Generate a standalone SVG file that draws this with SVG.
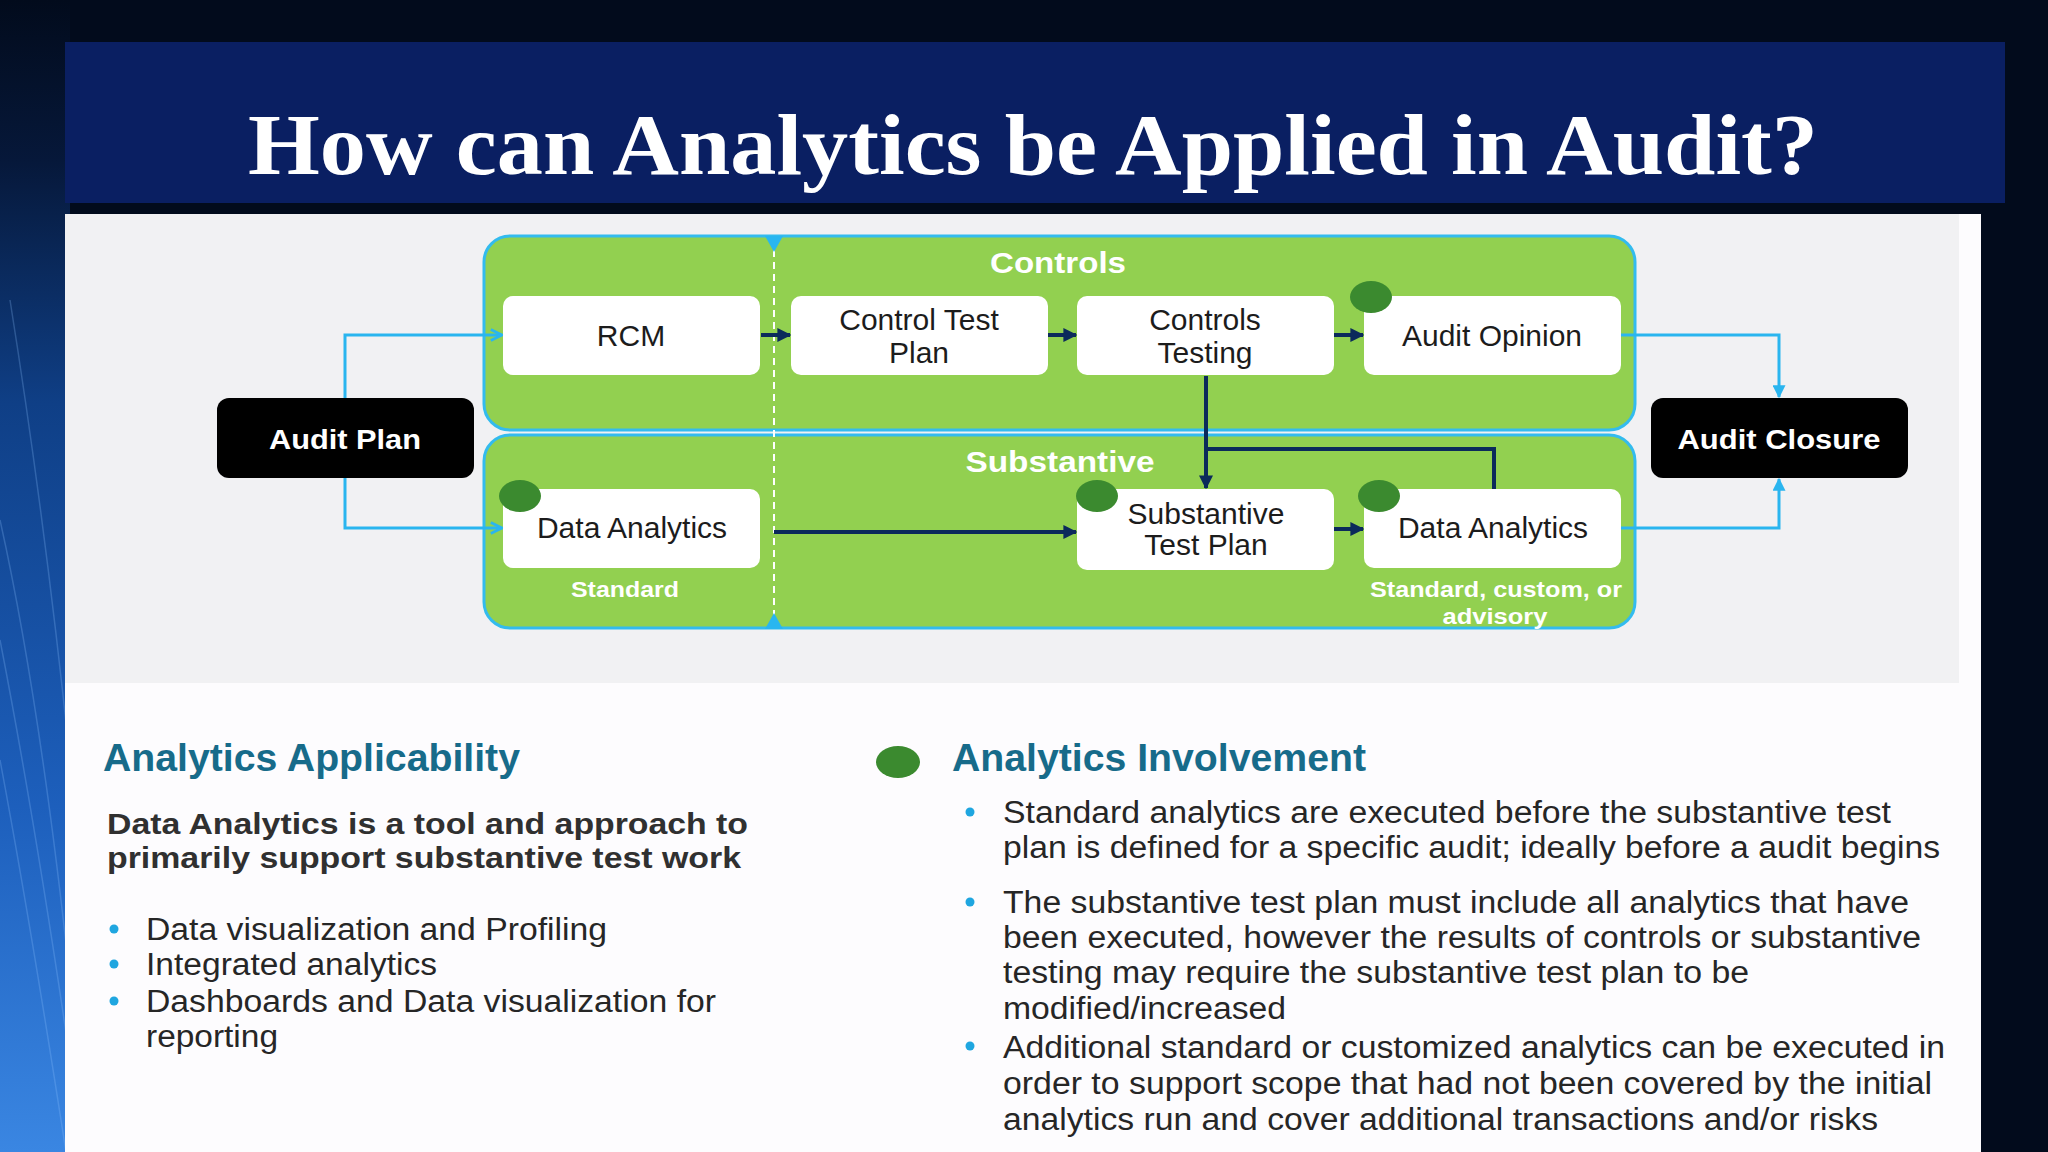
<svg xmlns="http://www.w3.org/2000/svg" width="2048" height="1152" viewBox="0 0 2048 1152">
  <defs>
    <linearGradient id="leftGlow" x1="0" y1="0" x2="0" y2="1152" gradientUnits="userSpaceOnUse">
      <stop offset="0" stop-color="#020b1c"/>
      <stop offset="0.14" stop-color="#06183a"/>
      <stop offset="0.35" stop-color="#0f3f86"/>
      <stop offset="0.7" stop-color="#1d5fbc"/>
      <stop offset="1" stop-color="#3a86e2"/>
    </linearGradient>
    <marker id="navyHead" viewBox="0 0 10 10" refX="9" refY="5" markerWidth="14" markerHeight="14" markerUnits="userSpaceOnUse" orient="auto">
      <path d="M0,0 L10,5 L0,10 Z" fill="#0b2a5b"/>
    </marker>
    <marker id="cyanHead" viewBox="0 0 10 10" refX="9" refY="5" markerWidth="13" markerHeight="13" markerUnits="userSpaceOnUse" orient="auto">
      <path d="M0,0 L10,5 L0,10 Z" fill="#2ab5ef"/>
    </marker>
    <marker id="cyanOpen" viewBox="0 0 10 10" refX="9" refY="5" markerWidth="14" markerHeight="14" markerUnits="userSpaceOnUse" orient="auto">
      <path d="M1,1 L9,5 L1,9" fill="none" stroke="#2ab5ef" stroke-width="2"/>
    </marker>
    <style>
      .lane { fill: #92d050; stroke: #33bbee; stroke-width: 3; }
      .box { fill: #ffffff; }
      .dot { fill: #3b8a2f; }
      .blk { fill: #000000; }
      .bt { font-family: "Liberation Sans", Arial, sans-serif; font-size: 30px; fill: #1c1c1c; text-anchor: middle; }
      .wt { font-family: "Liberation Sans", Arial, sans-serif; font-weight: bold; fill: #ffffff; text-anchor: middle; }
      .navy { fill: none; stroke: #0b2a5b; stroke-width: 4; }
      .cyan { fill: none; stroke: #2ab5ef; stroke-width: 3; }
      .head { font-family: "Liberation Sans", Arial, sans-serif; font-weight: bold; font-size: 38px; fill: #176b8a; }
      .lead { font-family: "Liberation Sans", Arial, sans-serif; font-weight: bold; font-size: 30px; fill: #303030; }
      .body { font-family: "Liberation Sans", Arial, sans-serif; font-size: 31px; fill: #262626; }
      .bul { fill: #1fa6e0; }
      .streak { fill: none; stroke: #8fc4ff; stroke-width: 1.5; opacity: 0.25; }
    </style>
  </defs>

  <!-- background -->
  <rect x="0" y="0" width="2048" height="1152" fill="#020b1c"/>
  <rect x="0" y="0" width="70" height="1152" fill="url(#leftGlow)"/>
  <path class="streak" d="M0,520 Q40,700 70,980"/>
  <path class="streak" d="M0,640 Q35,820 70,1060"/>
  <path class="streak" d="M0,760 Q30,920 66,1152"/>
  <path class="streak" d="M10,300 Q45,520 70,760"/>

  <!-- title banner -->
  <rect x="65" y="42" width="1940" height="161" fill="#0a1f62"/>
  <text x="1033" y="174" text-anchor="middle" font-family="'Liberation Serif', 'Times New Roman', serif" font-weight="bold" font-size="86" fill="#ffffff" textLength="1570" lengthAdjust="spacingAndGlyphs">How can Analytics be Applied in Audit?</text>

  <!-- content panel -->
  <rect x="65" y="214" width="1916" height="938" fill="#fdfcfe"/>
  <rect x="65" y="214" width="1894" height="469" fill="#f1f1f3"/>

  <!-- lanes -->
  <g id="lane-controls">
    <rect class="lane" x="484" y="236" width="1151" height="194" rx="26"/>
    <text class="wt" x="1058" y="273" font-size="29" textLength="136" lengthAdjust="spacingAndGlyphs">Controls</text>
  </g>
  <g id="lane-substantive">
    <rect class="lane" x="484" y="435" width="1151" height="193" rx="26"/>
    <text class="wt" x="1060" y="472" font-size="29" textLength="189" lengthAdjust="spacingAndGlyphs">Substantive</text>
    <text class="wt" x="625" y="597" font-size="22" textLength="108" lengthAdjust="spacingAndGlyphs">Standard</text>
    <text class="wt" x="1496" y="597" font-size="22" textLength="252" lengthAdjust="spacingAndGlyphs">Standard, custom, or</text>
    <text class="wt" x="1495" y="624" font-size="22" textLength="105" lengthAdjust="spacingAndGlyphs">advisory</text>
  </g>

  <!-- divider -->
  <g id="divider">
    <line x1="774" y1="238" x2="774" y2="626" stroke="#ffffff" stroke-width="2" stroke-dasharray="7,5"/>
    <path d="M765,236 L783,236 L774,252 Z" fill="#29b6f0"/>
    <path d="M765,629 L783,629 L774,613 Z" fill="#29b6f0"/>
  </g>

  <!-- connectors -->
  <g id="connectors">
    <line class="navy" x1="761" y1="335" x2="790" y2="335" marker-end="url(#navyHead)"/>
    <line class="navy" x1="1048" y1="335" x2="1076" y2="335" marker-end="url(#navyHead)"/>
    <line class="navy" x1="1334" y1="335" x2="1363" y2="335" marker-end="url(#navyHead)"/>
    <line class="navy" x1="1206" y1="376" x2="1206" y2="488" marker-end="url(#navyHead)"/>
    <polyline class="navy" points="1494,489 1494,449 1206,449"/>
    <line class="navy" x1="1334" y1="529" x2="1363" y2="529" marker-end="url(#navyHead)"/>
    <line class="navy" x1="774" y1="532" x2="1076" y2="532" marker-end="url(#navyHead)"/>
    <polyline class="cyan" points="345,398 345,335 502,335" marker-end="url(#cyanOpen)"/>
    <polyline class="cyan" points="345,478 345,528 502,528" marker-end="url(#cyanOpen)"/>
    <polyline class="cyan" points="1621,335 1779,335 1779,397" marker-end="url(#cyanHead)"/>
    <polyline class="cyan" points="1621,528 1779,528 1779,479" marker-end="url(#cyanHead)"/>
  </g>

  <!-- nodes -->
  <g id="audit-plan">
    <rect class="blk" x="217" y="398" width="257" height="80" rx="12"/>
    <text class="wt" x="345" y="449" font-size="28" textLength="152" lengthAdjust="spacingAndGlyphs">Audit Plan</text>
  </g>
  <g id="audit-closure">
    <rect class="blk" x="1651" y="398" width="257" height="80" rx="12"/>
    <text class="wt" x="1779" y="449" font-size="28" textLength="203" lengthAdjust="spacingAndGlyphs">Audit Closure</text>
  </g>
  <g id="rcm">
    <rect class="box" x="503" y="296" width="257" height="79" rx="10"/>
    <text class="bt" x="631" y="346">RCM</text>
  </g>
  <g id="control-test-plan">
    <rect class="box" x="791" y="296" width="257" height="79" rx="10"/>
    <text class="bt" x="919" y="330">Control Test</text>
    <text class="bt" x="919" y="363">Plan</text>
  </g>
  <g id="controls-testing">
    <rect class="box" x="1077" y="296" width="257" height="79" rx="10"/>
    <text class="bt" x="1205" y="330">Controls</text>
    <text class="bt" x="1205" y="363">Testing</text>
  </g>
  <g id="audit-opinion">
    <rect class="box" x="1364" y="296" width="257" height="79" rx="10"/>
    <ellipse class="dot" cx="1371" cy="297" rx="21" ry="16"/>
    <text class="bt" x="1492" y="346">Audit Opinion</text>
  </g>
  <g id="data-analytics-standard">
    <rect class="box" x="503" y="489" width="257" height="79" rx="10"/>
    <ellipse class="dot" cx="520" cy="496" rx="21" ry="16"/>
    <text class="bt" x="632" y="538">Data Analytics</text>
  </g>
  <g id="substantive-test-plan">
    <rect class="box" x="1077" y="489" width="257" height="81" rx="10"/>
    <ellipse class="dot" cx="1097" cy="496" rx="21" ry="16"/>
    <text class="bt" x="1206" y="524">Substantive</text>
    <text class="bt" x="1206" y="555">Test Plan</text>
  </g>
  <g id="data-analytics-custom">
    <rect class="box" x="1364" y="489" width="257" height="79" rx="10"/>
    <ellipse class="dot" cx="1379" cy="496" rx="21" ry="16"/>
    <text class="bt" x="1493" y="538">Data Analytics</text>
  </g>

  <!-- lower left text -->
  <g id="applicability">
    <text class="head" x="103" y="771" textLength="417" lengthAdjust="spacingAndGlyphs">Analytics Applicability</text>
    <text class="lead" x="107" y="834" textLength="641" lengthAdjust="spacingAndGlyphs">Data Analytics is a tool and approach to</text>
    <text class="lead" x="107" y="868" textLength="634" lengthAdjust="spacingAndGlyphs">primarily support substantive test work</text>
    <circle class="bul" cx="114" cy="929" r="4.5"/>
    <circle class="bul" cx="114" cy="964" r="4.5"/>
    <circle class="bul" cx="114" cy="1001" r="4.5"/>
    <text class="body" x="146" y="940" textLength="461" lengthAdjust="spacingAndGlyphs">Data visualization and Profiling</text>
    <text class="body" x="146" y="975" textLength="291" lengthAdjust="spacingAndGlyphs">Integrated analytics</text>
    <text class="body" x="146" y="1012" textLength="570" lengthAdjust="spacingAndGlyphs">Dashboards and Data visualization for</text>
    <text class="body" x="146" y="1047" textLength="132" lengthAdjust="spacingAndGlyphs">reporting</text>
  </g>

  <!-- lower right text -->
  <g id="involvement">
    <ellipse class="dot" cx="898" cy="762" rx="22" ry="16"/>
    <text class="head" x="952" y="771" textLength="414" lengthAdjust="spacingAndGlyphs">Analytics Involvement</text>
    <circle class="bul" cx="970" cy="812" r="4.5"/>
    <circle class="bul" cx="970" cy="902" r="4.5"/>
    <circle class="bul" cx="970" cy="1046" r="4.5"/>
    <text class="body" x="1003" y="823" textLength="888" lengthAdjust="spacingAndGlyphs">Standard analytics are executed before the substantive test</text>
    <text class="body" x="1003" y="858" textLength="937" lengthAdjust="spacingAndGlyphs">plan is defined for a specific audit; ideally before a audit begins</text>
    <text class="body" x="1003" y="913" textLength="906" lengthAdjust="spacingAndGlyphs">The substantive test plan must include all analytics that have</text>
    <text class="body" x="1003" y="948" textLength="918" lengthAdjust="spacingAndGlyphs">been executed, however the results of controls or substantive</text>
    <text class="body" x="1003" y="983" textLength="746" lengthAdjust="spacingAndGlyphs">testing may require the substantive test plan to be</text>
    <text class="body" x="1003" y="1019" textLength="283" lengthAdjust="spacingAndGlyphs">modified/increased</text>
    <text class="body" x="1003" y="1058" textLength="942" lengthAdjust="spacingAndGlyphs">Additional standard or customized analytics can be executed in</text>
    <text class="body" x="1003" y="1094" textLength="929" lengthAdjust="spacingAndGlyphs">order to support scope that had not been covered by the initial</text>
    <text class="body" x="1003" y="1130" textLength="875" lengthAdjust="spacingAndGlyphs">analytics run and cover additional transactions and/or risks</text>
  </g>
</svg>
